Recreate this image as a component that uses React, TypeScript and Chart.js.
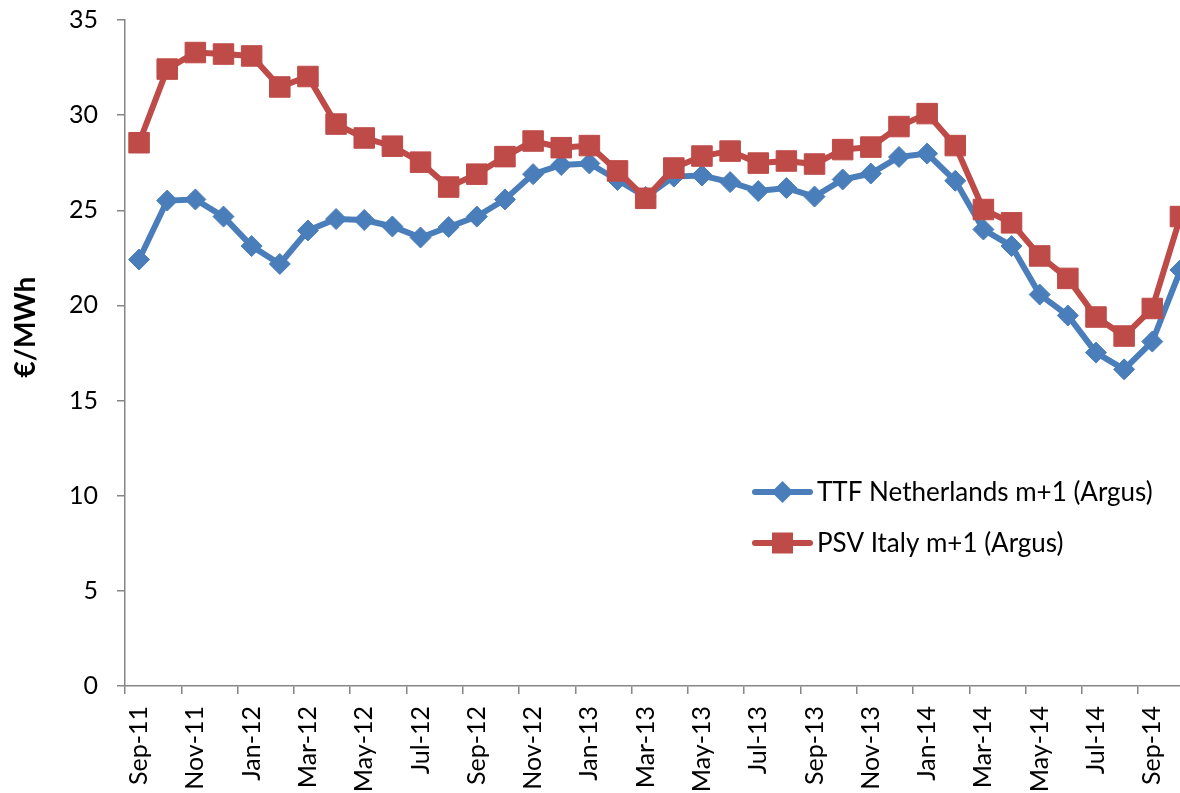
import { useEffect, useRef } from 'react';
import { Chart, registerables } from 'chart.js';

Chart.register(...registerables);

const months = [
  'Sep-11', 'Oct-11', 'Nov-11', 'Dec-11', 'Jan-12', 'Feb-12', 'Mar-12', 'Apr-12',
  'May-12', 'Jun-12', 'Jul-12', 'Aug-12', 'Sep-12', 'Oct-12', 'Nov-12', 'Dec-12',
  'Jan-13', 'Feb-13', 'Mar-13', 'Apr-13', 'May-13', 'Jun-13', 'Jul-13', 'Aug-13',
  'Sep-13', 'Oct-13', 'Nov-13', 'Dec-13', 'Jan-14', 'Feb-14', 'Mar-14', 'Apr-14',
  'May-14', 'Jun-14', 'Jul-14', 'Aug-14', 'Sep-14', 'Oct-14',
];

const ttfValues = [
  22.41, 25.51, 25.57, 24.67, 23.12, 22.18, 23.94, 24.54,
  24.49, 24.15, 23.57, 24.12, 24.67, 25.57, 26.9, 27.38,
  27.46, 26.59, 25.7, 26.77, 26.83, 26.48, 26.01, 26.17,
  25.72, 26.62, 26.93, 27.8, 27.98, 26.55, 23.99, 23.12,
  20.57, 19.47, 17.52, 16.64, 18.1, 21.86,
];

const psvValues = [
  28.55, 32.42, 33.29, 33.21, 33.11, 31.48, 32.03, 29.53,
  28.8, 28.37, 27.53, 26.22, 26.9, 27.82, 28.64, 28.29,
  28.4, 27.07, 25.63, 27.22, 27.85, 28.11, 27.48, 27.59,
  27.43, 28.19, 28.32, 29.4, 30.08, 28.4, 25.04, 24.34,
  22.6, 21.42, 19.39, 18.39, 19.84, 24.67,
];

const seriesNames = ['TTF Netherlands m+1 (Argus)', 'PSV Italy m+1 (Argus)'];
const yAxisTitle = '€/MWh';
const yMin = 0;
const yMax = 35;
const yStep = 5;

const BLUE = '#4A7EBB';
const RED = '#BE4B48';
const AXIS = '#868686';
const FONT = 'Lato';

const overlayPlugin = {
  id: 'overlay',
  afterDraw(chart: any) {
    const ctx = chart.ctx as CanvasRenderingContext2D;
    // y axis title
    ctx.save();
    ctx.translate(26, 327);
    ctx.rotate(-Math.PI / 2);
    ctx.font = `bold 28px ${FONT}`;
    ctx.fillStyle = '#000';
    ctx.textAlign = 'center';
    ctx.textBaseline = 'middle';
    ctx.fillText(yAxisTitle, 0, 0);
    ctx.restore();

    // legend
    const rows = [492, 543];
    chart.data.datasets.forEach((ds: any, i: number) => {
      const y = rows[i];
      ctx.save();
      ctx.strokeStyle = ds.borderColor;
      ctx.lineWidth = 6;
      ctx.lineCap = 'round';
      ctx.beginPath();
      ctx.moveTo(755, y);
      ctx.lineTo(810, y);
      ctx.stroke();
      ctx.fillStyle = ds.backgroundColor;
      const cx = 782.5;
      ctx.beginPath();
      if (ds.pointStyle === 'rectRot') {
        const r = 11;
        ctx.moveTo(cx - r, y);
        ctx.lineTo(cx, y - r);
        ctx.lineTo(cx + r, y);
        ctx.lineTo(cx, y + r);
        ctx.closePath();
      } else {
        const h = 10.5;
        ctx.rect(cx - h, y - h, 2 * h, 2 * h);
      }
      ctx.fill();
      ctx.font = `26px ${FONT}`;
      ctx.fillStyle = '#000';
      ctx.textAlign = 'left';
      ctx.textBaseline = 'middle';
      ctx.fillText(ds.label, 817, y + 1);
      ctx.restore();
    });
  },
};

export default function App() {
  const canvasRef = useRef<HTMLCanvasElement | null>(null);

  useEffect(() => {
    if (!canvasRef.current) return;
    const chart = new Chart(canvasRef.current, {
      type: 'line',
      data: {
        labels: months,
        datasets: [
          {
            label: seriesNames[0],
            data: ttfValues,
            borderColor: BLUE,
            backgroundColor: BLUE,
            borderWidth: 6,
            pointStyle: 'rectRot',
            pointRadius: 10.5,
            pointBorderWidth: 1,
            pointBorderColor: BLUE,
            pointBackgroundColor: BLUE,
            tension: 0,
            order: 1,
          },
          {
            label: seriesNames[1],
            data: psvValues,
            borderColor: RED,
            backgroundColor: RED,
            borderWidth: 6,
            pointStyle: 'rect',
            pointRadius: 14.5,
            pointBorderWidth: 1,
            pointBorderColor: RED,
            pointBackgroundColor: RED,
            tension: 0,
            order: 0,
          },
        ],
      },
      options: {
        responsive: false,
        animation: false,
        devicePixelRatio: 1,
        events: [],
        layout: { padding: { top: 20, right: 13.4, bottom: 0, left: 0 } },
        plugins: {
          legend: { display: false },
          tooltip: { enabled: false },
          title: { display: false },
        },
        scales: {
          x: {
            type: 'category',
            offset: true,
            grid: {
              offset: true,
              drawOnChartArea: false,
              drawTicks: true,
              tickLength: 8,
              lineWidth: 1.5,
              color: (c: any) => (c.index % 2 === 0 ? AXIS : 'rgba(0,0,0,0)'),
            },
            border: { display: true, color: AXIS, width: 1.5 },
            ticks: {
              autoSkip: false,
              maxRotation: 90,
              minRotation: 90,
              padding: 12,
              color: '#000',
              font: { family: FONT, size: 25 },
              callback: (_v: any, i: number) => (i % 2 === 0 ? months[i] : ''),
            },
            afterFit: (scale: any) => {
              scale.height = 107;
              scale.paddingLeft = 0;
              scale.paddingRight = 0;
            },
          },
          y: {
            min: yMin,
            max: yMax,
            grid: {
              drawOnChartArea: false,
              drawTicks: true,
              tickLength: 8,
              lineWidth: 1.5,
              color: AXIS,
            },
            border: { display: true, color: AXIS, width: 1.5 },
            ticks: {
              stepSize: yStep,
              padding: 19,
              color: '#000',
              font: { family: FONT, size: 25 },
            },
            afterFit: (scale: any) => {
              scale.width = 125;
              scale.paddingTop = 0;
              scale.paddingBottom = 0;
            },
          },
        },
      },
      plugins: [overlayPlugin],
    });
    return () => chart.destroy();
  }, []);

  return (
    <div
      style={{
        position: 'absolute',
        left: 0,
        top: 0,
        width: 1180,
        height: 793,
        overflow: 'hidden',
        background: '#fff',
      }}
    >
      <canvas ref={canvasRef} width={1210} height={793} style={{ display: 'block' }} />
    </div>
  );
}
